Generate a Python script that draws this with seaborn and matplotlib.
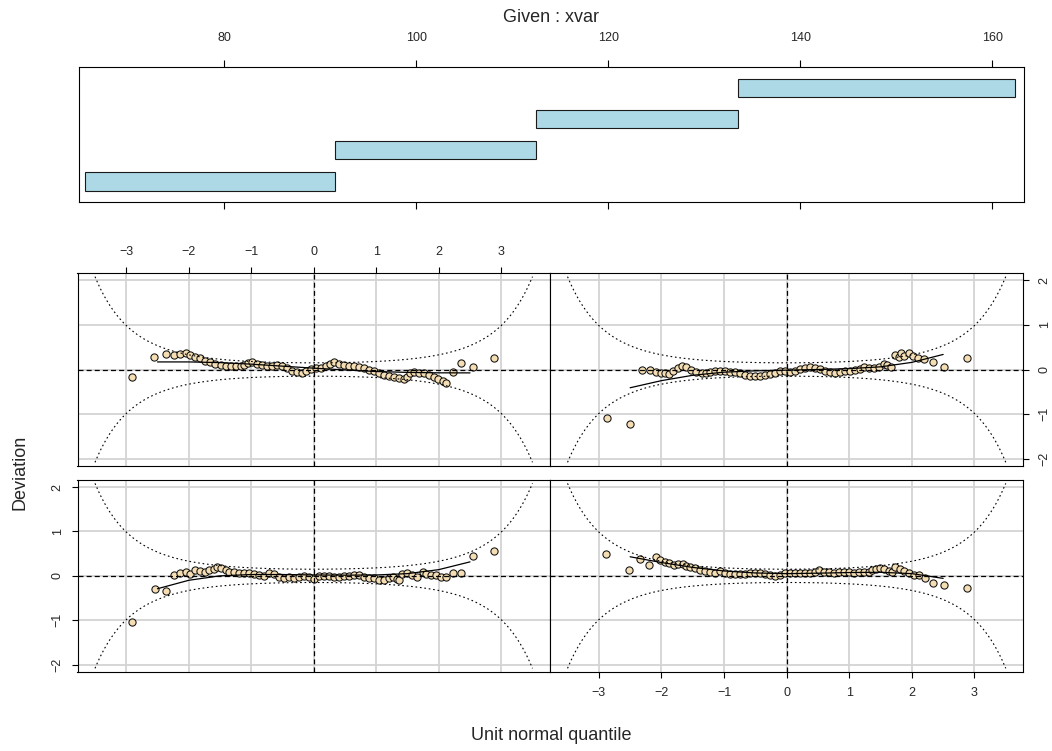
import math
import numpy as np
import matplotlib
matplotlib.use("Agg")
import matplotlib.pyplot as plt
import seaborn as sns

# ---- conditioning intervals of xvar (one bar per interval) ----
interval_low = [65.5, 91.5, 112.5, 133.5]
interval_high = [91.5, 112.5, 133.5, 162.4]
interval_row = [1, 2, 3, 4]
given_ticks = [80, 100, 120, 140, 160]

# ---- worm points: unit normal quantile vs deviation, one pair per interval ----
q1 = [-2.90, -2.54, -2.36, -2.23, -2.14, -2.05, -1.98, -1.90, -1.82, -1.74,
      -1.67, -1.60, -1.55, -1.48, -1.41, -1.35, -1.28, -1.20, -1.12, -1.04,
      -0.96, -0.88, -0.80, -0.72, -0.64, -0.56, -0.48, -0.40, -0.32, -0.24,
      -0.16, -0.08, 0.00, 0.08, 0.16, 0.24, 0.32, 0.40, 0.48, 0.56,
      0.64, 0.72, 0.80, 0.88, 0.96, 1.04, 1.12, 1.20, 1.27, 1.33,
      1.36, 1.41, 1.49, 1.57, 1.65, 1.74, 1.80, 1.87, 1.95, 2.03,
      2.12, 2.23, 2.35, 2.54, 2.89]
d1 = [-1.03, -0.30, -0.338, 0.03, 0.068, 0.083, 0.038, 0.128, 0.113, 0.098,
      0.128, 0.158, 0.195, 0.173, 0.128, 0.098, 0.083, 0.068, 0.068, 0.053,
      0.038, 0.023, -0.008, 0.06, 0.038, -0.015, -0.045, -0.023, -0.038, -0.023,
      -0.008, -0.03, -0.06, -0.008, 0.0, -0.008, -0.023, -0.015, -0.008, -0.008,
      0.023, 0.008, -0.03, -0.038, -0.053, -0.083, -0.083, -0.053, -0.03, -0.075,
      -0.098, 0.038, 0.053, 0.023, -0.015, 0.098, 0.045, 0.023, 0.023, -0.015,
      -0.023, 0.075, 0.075, 0.458, 0.563]

q2 = [-2.88, -2.52, -2.34, -2.20, -2.09, -2.02, -1.95, -1.88, -1.80, -1.73,
      -1.66, -1.60, -1.54, -1.47, -1.39, -1.31, -1.23, -1.15, -1.07, -0.99,
      -0.91, -0.83, -0.75, -0.67, -0.59, -0.51, -0.43, -0.35, -0.27, -0.19,
      -0.11, -0.03, 0.05, 0.13, 0.21, 0.29, 0.37, 0.45, 0.52, 0.59,
      0.67, 0.75, 0.83, 0.91, 0.99, 1.07, 1.15, 1.23, 1.31, 1.36,
      1.43, 1.49, 1.56, 1.63, 1.68, 1.73, 1.81, 1.88, 1.95, 2.03,
      2.11, 2.21, 2.34, 2.52, 2.88]
d2 = [0.488, 0.143, 0.375, 0.248, 0.42, 0.353, 0.315, 0.293, 0.24, 0.278,
      0.263, 0.233, 0.203, 0.173, 0.143, 0.113, 0.09, 0.075, 0.113, 0.068,
      0.045, 0.038, 0.038, 0.038, 0.053, 0.075, 0.068, 0.038, 0.015, 0.0,
      0.023, 0.053, 0.053, 0.053, 0.068, 0.068, 0.075, 0.098, 0.128, 0.098,
      0.083, 0.068, 0.09, 0.083, 0.083, 0.068, 0.09, 0.098, 0.083, 0.128,
      0.165, 0.188, 0.165, 0.113, 0.083, 0.203, 0.165, 0.113, 0.068, 0.03,
      0.023, -0.038, -0.158, -0.203, -0.263]

q3 = [-2.91, -2.55, -2.37, -2.23, -2.14, -2.05, -1.98, -1.90, -1.82, -1.74,
      -1.66, -1.58, -1.49, -1.41, -1.33, -1.25, -1.17, -1.12, -1.06, -0.99,
      -0.91, -0.83, -0.75, -0.67, -0.59, -0.51, -0.43, -0.35, -0.27, -0.19,
      -0.13, -0.05, 0.03, 0.11, 0.19, 0.26, 0.32, 0.40, 0.48, 0.56,
      0.64, 0.72, 0.80, 0.88, 0.96, 1.04, 1.12, 1.20, 1.28, 1.36,
      1.44, 1.49, 1.54, 1.60, 1.68, 1.76, 1.84, 1.92, 1.99, 2.06,
      2.12, 2.23, 2.35, 2.54, 2.89]
d3 = [-0.17, 0.285, 0.35, 0.315, 0.34, 0.38, 0.33, 0.29, 0.25, 0.20,
      0.165, 0.13, 0.105, 0.083, 0.068, 0.083, 0.068, 0.105, 0.143, 0.158,
      0.128, 0.098, 0.083, 0.083, 0.098, 0.083, 0.03, -0.023, -0.045, -0.068,
      -0.038, 0.008, 0.023, 0.038, 0.068, 0.128, 0.173, 0.128, 0.098, 0.083,
      0.068, 0.053, 0.023, -0.008, -0.038, -0.068, -0.113, -0.143, -0.158, -0.18,
      -0.218, -0.173, -0.068, -0.06, -0.068, -0.075, -0.113, -0.158, -0.203, -0.248,
      -0.308, -0.053, 0.143, 0.053, 0.255]

q4 = [-2.87, -2.51, -2.31, -2.19, -2.09, -2.01, -1.94, -1.88, -1.81, -1.74,
      -1.67, -1.60, -1.52, -1.44, -1.36, -1.29, -1.23, -1.15, -1.07, -0.99,
      -0.91, -0.83, -0.75, -0.67, -0.59, -0.51, -0.43, -0.35, -0.27, -0.19,
      -0.11, -0.03, 0.05, 0.13, 0.21, 0.29, 0.37, 0.45, 0.53, 0.61,
      0.69, 0.77, 0.85, 0.93, 1.01, 1.09, 1.17, 1.23, 1.31, 1.39,
      1.47, 1.55, 1.61, 1.66, 1.73, 1.79, 1.82, 1.88, 1.95, 2.02,
      2.10, 2.20, 2.33, 2.52, 2.88]
d4 = [-1.08, -1.22, 0.0, -0.008, -0.053, -0.068, -0.068, -0.105, -0.038, 0.023,
      0.083, 0.045, -0.015, -0.053, -0.075, -0.083, -0.053, -0.023, -0.038, -0.038,
      -0.045, -0.053, -0.083, -0.12, -0.143, -0.143, -0.15, -0.12, -0.105, -0.068,
      -0.023, -0.038, -0.053, -0.023, 0.008, 0.03, 0.045, 0.03, 0.008, -0.03,
      -0.053, -0.075, -0.053, -0.023, -0.023, -0.015, 0.008, 0.053, 0.023, 0.023,
      0.053, 0.113, 0.098, 0.053, 0.323, 0.27, 0.36, 0.30, 0.368, 0.30,
      0.263, 0.225, 0.158, 0.053, 0.263]

# ---- cubic worm fits, sampled between -2.5 and 2.5 ----
fit_q = [-2.5, -2.0, -1.5, -1.0, -0.5, 0.0, 0.5, 1.0, 1.5, 2.0, 2.5]
fit1 = [-0.29, -0.10, 0.0, 0.03, 0.03, 0.02, 0.015, 0.02, 0.05, 0.14, 0.315]
fit2 = [0.43, 0.30, 0.19, 0.11, 0.065, 0.05, 0.06, 0.075, 0.08, 0.05, -0.057]
fit3 = [0.17, 0.17, 0.155, 0.12, 0.075, 0.03, -0.01, -0.045, -0.065, -0.075, -0.076]
fit4 = [-0.41, -0.25, -0.13, -0.06, -0.03, -0.015, 0.0, 0.02, 0.06, 0.16, 0.338]

# observations per interval, used for the 95% reference bands
n_obs = 270

quant_ticks = [-3, -2, -1, 0, 1, 2, 3]
dev_ticks = [-2, -1, 0, 1, 2]

sns.set_theme(style="white")
plt.rcParams["font.family"] = ["Liberation Sans", "DejaVu Sans"]
plt.rcParams["axes.unicode_minus"] = True

W, H = 1052, 751
fig = plt.figure(figsize=(W / 100, H / 100), dpi=100)
fig.patch.set_facecolor("white")


def axes_px(x0, y0, x1, y1):
    return fig.add_axes([x0 / W, 1 - y1 / H, (x1 - x0) / W, (y1 - y0) / H])


TICK_FS = 9
LABEL_FS = 13

# ---- given panel ----
axg = axes_px(78.5, 67.3, 1023.5, 201.7)
widths = [h - l for l, h in zip(interval_low, interval_high)]
axg.barh(interval_row, widths, left=interval_low, height=0.6,
         color="#ADD8E6", edgecolor="#1a1a1a", linewidth=0.8)
axg.set_xlim(64.81, 163.25)
axg.set_ylim(0.34, 4.66)
axg.set_xticks(given_ticks)
axg.set_yticks([])
axg.tick_params(axis="x", top=True, bottom=True, labeltop=True, labelbottom=False,
                direction="out", length=5, width=0.8, color="black",
                labelsize=TICK_FS, pad=12)
for s in axg.spines.values():
    s.set_color("black")
    s.set_linewidth(0.8)

# ---- worm panels ----
panels = {
    "bl": (77.5, 480.0, 550.0, 671.7, q1, d1, fit1),
    "br": (550.0, 480.0, 1023.3, 671.7, q2, d2, fit2),
    "tl": (77.5, 273.3, 550.0, 465.7, q3, d3, fit3),
    "tr": (550.0, 273.3, 1023.3, 465.7, q4, d4, fit4),
}

z = np.linspace(-3.5, 3.5, 141)
pz = np.array([0.5 * (1 + math.erf(v / math.sqrt(2))) for v in z])
dz = np.exp(-z ** 2 / 2) / math.sqrt(2 * math.pi)
band = 1.959964 * np.sqrt(pz * (1 - pz) / n_obs) / dz

for key, (x0, y0, x1, y1, qv, dv, fv) in panels.items():
    ax = axes_px(x0, y0, x1, y1)
    ax.set_xlim(-3.78, 3.78)
    ax.set_ylim(-2.16, 2.16)
    ax.set_xticks(quant_ticks)
    ax.set_yticks(dev_ticks)
    ax.grid(True, color="#D3D3D3", linewidth=1.3)
    ax.set_axisbelow(True)
    ax.tick_params(axis="both", which="both", left=False, right=False, top=False,
                   bottom=False, labelleft=False, labelright=False, labeltop=False,
                   labelbottom=False, length=4, width=0.8, color="black",
                   labelsize=TICK_FS, direction="out")
    for s in ax.spines.values():
        s.set_color("black")
        s.set_linewidth(0.8)

    sns.scatterplot(x=qv, y=dv, ax=ax, s=27, color="#F5DEB3", edgecolor="#111111",
                    linewidth=0.75, zorder=2, legend=False)
    ax.axhline(0, color="black", lw=0.9, ls=(0, (4, 2.5)), zorder=3)
    ax.axvline(0, color="black", lw=0.9, ls=(0, (4, 2.5)), zorder=3)
    sns.lineplot(x=z, y=band, ax=ax, color="black", lw=0.8, ls=(0, (1.5, 2.5)),
                 zorder=3, sort=False)
    sns.lineplot(x=z, y=-band, ax=ax, color="black", lw=0.8, ls=(0, (1.5, 2.5)),
                 zorder=3, sort=False)
    sns.lineplot(x=fit_q, y=fv, ax=ax, color="black", lw=0.9, zorder=4, sort=False)
    ax.set_xlabel("")
    ax.set_ylabel("")

    if key == "tl":
        ax.tick_params(axis="x", top=True, labeltop=True, pad=7)
    elif key == "br":
        ax.tick_params(axis="x", bottom=True, labelbottom=True, pad=7)
    elif key == "bl":
        ax.tick_params(axis="y", left=True, labelleft=True, pad=6, labelrotation=90)
        for t in ax.get_yticklabels():
            t.set_verticalalignment("center")
    elif key == "tr":
        ax.tick_params(axis="y", right=True, labelright=True, pad=7, labelrotation=90)
        for t in ax.get_yticklabels():
            t.set_verticalalignment("center")

fig.text(551 / W, 1 - 17 / H, "Given : xvar", ha="center", va="center", fontsize=LABEL_FS)
fig.text(20 / W, 1 - 472 / H, "Deviation", ha="center", va="center",
         rotation=90, fontsize=LABEL_FS)
fig.text(551 / W, 1 - 735 / H, "Unit normal quantile", ha="center", va="center",
         fontsize=LABEL_FS)

fig.savefig("out.png", dpi=100, facecolor="white")
